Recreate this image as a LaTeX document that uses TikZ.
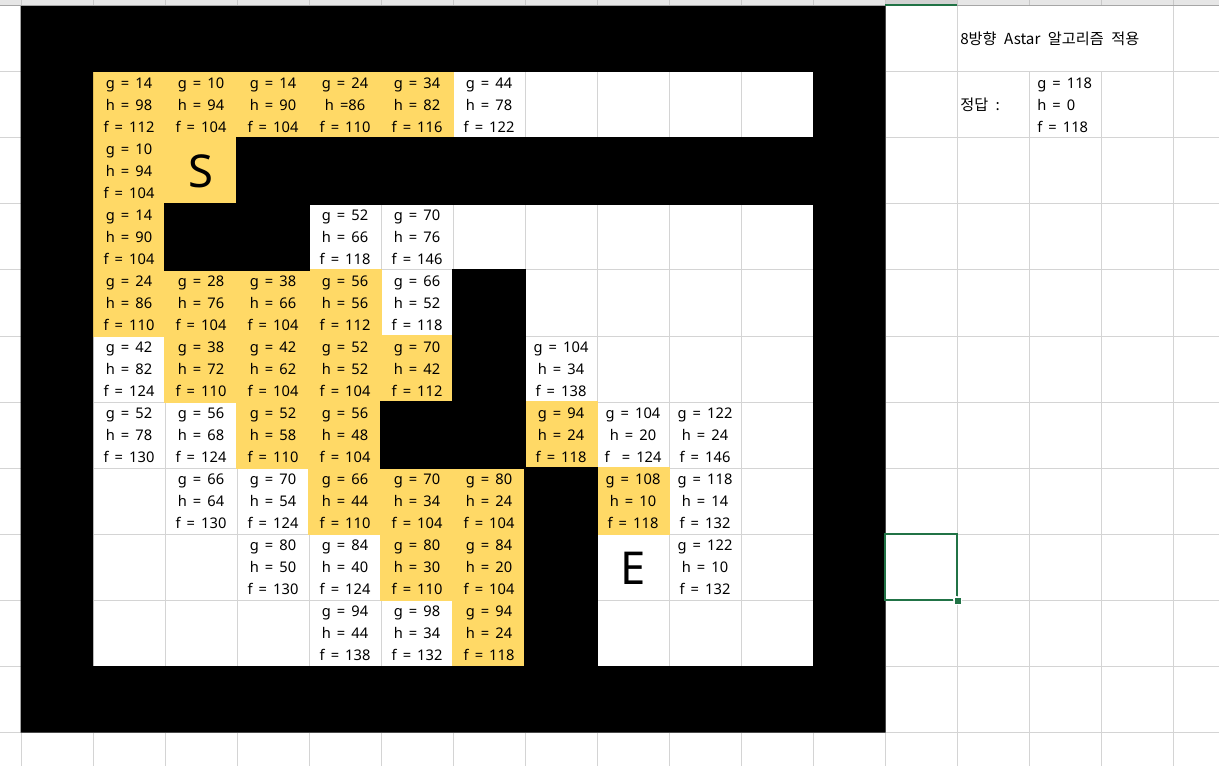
\documentclass[tikz,border=0pt]{standalone}
\usepackage{fontspec}
\setmainfont[WordSpace=1.6]{Noto Sans}
\newfontfamily\kr[WordSpace=2.2]{Noto Sans CJK KR}
\definecolor{yel}{HTML}{FFD966}
\definecolor{gridc}{HTML}{D4D4D4}
\definecolor{hdr}{HTML}{E6E6E6}
\definecolor{hdrsel}{HTML}{D2D2D2}
\definecolor{hdrline}{HTML}{A6A6A6}
\definecolor{hdrsep}{HTML}{C8C8C8}
\definecolor{xlgreen}{HTML}{217346}
\newcommand\val[5]{\node[val] (v#1#2) at ({57+72*#1},{39+66*#2}) {#3\\#4\\#5};}
\begin{document}
\begin{tikzpicture}[x=0.75pt,y=-0.75pt,
  val/.style={align=center, inner sep=0pt, font=\fontsize{11}{16.5}\selectfont},
  big/.style={inner sep=0pt, font=\fontsize{34}{40}\selectfont},
  plain/.style={inner sep=0pt, anchor=west, font=\fontsize{11}{16.5}\selectfont},
  gline/.style={draw=gridc, line width=0.75pt}]
\useasboundingbox (0,0) rectangle (1219,766);
\fill[white] (0,0) rectangle (1219,766);
% gridlines
\foreach \k in {0,...,13,16} \draw[gline] ({21+72*\k},6) -- ({21+72*\k},766);
\foreach \k in {14,15} \draw[gline] ({21+72*\k},72) -- ({21+72*\k},766);
\foreach \r in {1,...,11} \draw[gline] (0,{6+66*\r}) -- (1219,{6+66*\r});
% yellow cells
\foreach \k/\r in {1/1,2/1,3/1,4/1,5/1,1/2,2/2,1/3,1/4,2/4,3/4,4/4,2/5,3/5,4/5,5/5,3/6,4/6,7/6,4/7,5/7,6/7,8/7,5/8,6/8,6/9}
  \fill[yel] ({21+72*\k-0.6},{6+66*\r-0.6}) rectangle ({93+72*\k+0.6},{72+66*\r+0.6});
% black cells
\foreach \k/\r in {3/2,4/2,5/2,6/2,7/2,8/2,9/2,10/2,2/3,3/3,6/4,6/5,5/6,6/6,7/7,7/8,7/9}
  \fill[black] ({21+72*\k-0.6},{6+66*\r-0.6}) rectangle ({93+72*\k+0.6},{72+66*\r+0.6});
% black frame
\fill[black, even odd rule] (20.5,6) rectangle (885.5,732.5) (93,72) rectangle (813,666);
% header strip
\fill[hdr] (0,0) rectangle (1219,6);
\fill[hdrsel] (885,0) rectangle (957,6);
\foreach \k in {0,...,16} \draw[hdrsep, line width=0.75pt] ({21+72*\k},0) -- ({21+72*\k},6);
\draw[hdrline, line width=0.75pt] (0,6) -- (1219,6);
\draw[xlgreen, line width=1.5pt] (885,5.5) -- (957,5.5);
% selection
\draw[xlgreen, line width=1.5pt] (957,596) -- (957,534) -- (885,534) -- (885,600) -- (953,600);
\filldraw[fill=xlgreen, draw=white, line width=0.75pt] (954,597) rectangle (961,604);
% values
\val{1}{1}{g = 14}{h = 98}{f = 112}
\val{2}{1}{g = 10}{h = 94}{f = 104}
\val{3}{1}{g = 14}{h = 90}{f = 104}
\val{4}{1}{g = 24}{h =86}{f = 110}
\val{5}{1}{g = 34}{h = 82}{f = 116}
\val{6}{1}{g = 44}{h = 78}{f = 122}
\val{1}{2}{g = 10}{h = 94}{f = 104}
\node[big] (S) at (201,171) {S};
\val{1}{3}{g = 14}{h = 90}{f = 104}
\val{4}{3}{g = 52}{h = 66}{f = 118}
\val{5}{3}{g = 70}{h = 76}{f = 146}
\val{1}{4}{g = 24}{h = 86}{f = 110}
\val{2}{4}{g = 28}{h = 76}{f = 104}
\val{3}{4}{g = 38}{h = 66}{f = 104}
\val{4}{4}{g = 56}{h = 56}{f = 112}
\val{5}{4}{g = 66}{h = 52}{f = 118}
\val{1}{5}{g = 42}{h = 82}{f = 124}
\val{2}{5}{g = 38}{h = 72}{f = 110}
\val{3}{5}{g = 42}{h = 62}{f = 104}
\val{4}{5}{g = 52}{h = 52}{f = 104}
\val{5}{5}{g = 70}{h = 42}{f = 112}
\val{7}{5}{g = 104}{h = 34}{f = 138}
\val{1}{6}{g = 52}{h = 78}{f = 130}
\val{2}{6}{g = 56}{h = 68}{f = 124}
\val{3}{6}{g = 52}{h = 58}{f = 110}
\val{4}{6}{g = 56}{h = 48}{f = 104}
\val{7}{6}{g = 94}{h = 24}{f = 118}
\val{8}{6}{g = 104}{h = 20}{f\ \ = 124}
\val{9}{6}{g = 122}{h = 24}{f = 146}
\val{2}{7}{g = 66}{h = 64}{f = 130}
\val{3}{7}{g = 70}{h = 54}{f = 124}
\val{4}{7}{g = 66}{h = 44}{f = 110}
\val{5}{7}{g = 70}{h = 34}{f = 104}
\val{6}{7}{g = 80}{h = 24}{f = 104}
\val{8}{7}{g = 108}{h = 10}{f = 118}
\val{9}{7}{g = 118}{h = 14}{f = 132}
\val{3}{8}{g = 80}{h = 50}{f = 130}
\val{4}{8}{g = 84}{h = 40}{f = 124}
\val{5}{8}{g = 80}{h = 30}{f = 110}
\val{6}{8}{g = 84}{h = 20}{f = 104}
\node[big] (E) at (633,568) {E};
\val{9}{8}{g = 122}{h = 10}{f = 132}
\val{4}{9}{g = 94}{h = 44}{f = 138}
\val{5}{9}{g = 98}{h = 34}{f = 132}
\val{6}{9}{g = 94}{h = 24}{f = 118}
% side notes
\node[plain] (title) at (960,39) {\kr\fontsize{11.4}{16.5}\selectfont 8방향 Astar 알고리즘 적용};
\node[plain] (ans) at (960,105) {\kr\fontsize{11.4}{16.5}\selectfont 정답 :};
\node[plain, align=left] (ansval) at (1037,105) {g = 118\\h = 0\\f = 118};
\end{tikzpicture}
\end{document}
